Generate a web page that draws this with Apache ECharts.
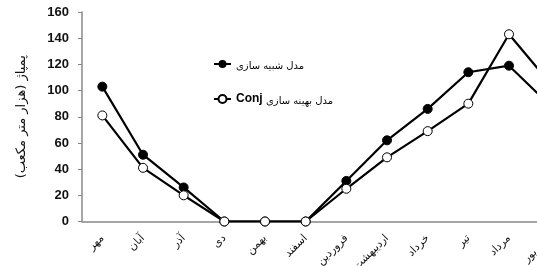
<!DOCTYPE html>
<html>
<head>
<meta charset="utf-8">
<script src="https://cdn.jsdelivr.net/npm/echarts@6/dist/echarts.min.js"></script>
<style>
  html, body { margin: 0; padding: 0; background: #fff; overflow: hidden; }
  #chart { width: 570px; height: 266px; }
</style>
</head>
<body>
<div id="chart"></div>
<script>
// months (Persian calendar), the last one is cut off at the right edge
const months = ['مهر', 'آبان', 'آذر', 'دی', 'بهمن', 'اسفند', 'فروردین', 'اردیبهشت', 'خرداد', 'تیر', 'مرداد', 'شهریور']
const simulated = [103, 51, 26, 0, 0, 0, 31, 62, 86, 114, 119, 89]
const optimized = [81, 41, 20, 0, 0, 0, 25, 49, 69, 90, 143, 106]
const yTicks = [0, 160, 20]

const chart = echarts.init(document.getElementById('chart'))

chart.setOption({
  animation: false,
  textStyle: { fontFamily: 'Arial, "Liberation Sans", "DejaVu Sans"' },
  legend: {
    orient: 'vertical',
    left: 208,
    top: 55,
    itemWidth: 17,
    itemHeight: 10,
    itemGap: 22,
    data: ['مدل شبیه سازی', 'Conj مدل بهینه سازی'],
    formatter: function (name) {
      if (name.indexOf('Conj') === 0) {
        return '{en|Conj} {fa|' + name.slice(5) + '}'
      }
      return '{fa|' + name + '}'
    },
    textStyle: {
      color: '#000',
      rich: {
        en: { fontSize: 12, fontWeight: 'bold', color: '#000', fontFamily: 'Arial' },
        fa: { fontSize: 10, color: '#000', fontFamily: '"DejaVu Sans"', padding: [4, 0, 0, 0] }
      }
    }
  },
  grid: {
    left: 82,
    right: 0,
    top: 12,
    bottom: 44.5,
    containLabel: false,
    outerBoundsMode: 'none'
  },
  xAxis: {
    type: 'category',
    data: months,
    boundaryGap: true,
    axisLine: { lineStyle: { color: '#888', width: 1.5 } },
    axisTick: { length: 4, lineStyle: { color: '#888' } },
    axisLabel: {
      rotate: 45,
      interval: 0,
      margin: 15,
      fontSize: 11,
      color: '#111',
      fontFamily: '"DejaVu Sans", Arial'
    }
  },
  yAxis: {
    type: 'value',
    min: yTicks[0],
    max: yTicks[1],
    interval: yTicks[2],
    name: 'پمپاژ (هزار متر مکعب)',
    nameLocation: 'middle',
    nameGap: 54,
    nameTextStyle: { fontSize: 13, color: '#111', fontFamily: '"DejaVu Sans", Arial' },
    splitLine: { show: false },
    axisLine: { show: true, lineStyle: { color: '#888', width: 1.5 } },
    axisTick: { show: true, length: 4, lineStyle: { color: '#888' } },
    axisLabel: { fontSize: 13, fontWeight: 'bold', color: '#111', margin: 13 }
  },
  series: [{
    name: 'مدل شبیه سازی',
    type: 'line',
    data: simulated,
    symbol: 'circle',
    symbolSize: 9,
    lineStyle: { color: '#000', width: 2.2 },
    itemStyle: { color: '#000', borderColor: '#000' }
  }, {
    name: 'Conj مدل بهینه سازی',
    type: 'line',
    data: optimized,
    symbol: 'circle',
    symbolSize: 9,
    lineStyle: { color: '#000', width: 2.2 },
    itemStyle: { color: '#fff', borderColor: '#000', borderWidth: 1 }
  }]
})
</script>
</body>
</html>
